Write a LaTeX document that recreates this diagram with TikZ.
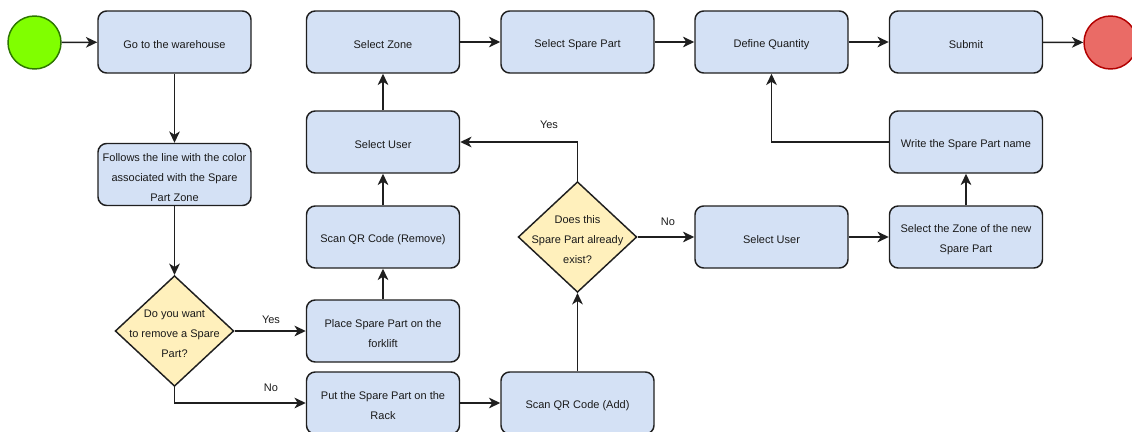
\documentclass[tikz,border=0pt]{standalone}
\usepackage{fontspec}
\setmainfont{Liberation Sans}
\usetikzlibrary{shapes.geometric,arrows.meta}

\definecolor{boxfill}{HTML}{D4E1F5}
\definecolor{decfill}{HTML}{FFF0BC}
\definecolor{linecol}{HTML}{1F1F1F}
\definecolor{txtcol}{HTML}{1A1A1A}
\definecolor{startfill}{HTML}{80FF00}
\definecolor{startline}{HTML}{2D7600}
\definecolor{endfill}{HTML}{EA6B66}
\definecolor{endline}{HTML}{B20000}

\begin{document}
\begin{tikzpicture}[x=0.75pt,y=-0.75pt,
  every node/.style={font=\fontsize{8.25}{15}\selectfont, text=txtcol},
  % captions sit slightly below the centre of their shape
  caption/.style={align=center, yshift=-2.25pt},
  stepbox/.style={draw=linecol, line width=1.1pt, fill=boxfill, rounded corners=6.5pt,
    minimum width=114.75pt, minimum height=46.5pt, inner sep=0pt,
    label={[caption]center:#1}},
  decision/.style={diamond, draw=linecol, line width=1.1pt, fill=decfill,
    minimum width=89pt, minimum height=83pt, inner sep=0pt,
    label={[caption]center:#1}},
  terminal/.style={circle, line width=1.1pt, minimum size=39.75pt, inner sep=0pt},
  flow/.style={draw=linecol, line width=1.1pt, -{Stealth[length=8.5pt,width=8pt,inset=2.5pt]}},
  lbl/.style={inner sep=1pt}
]
\useasboundingbox (0,0) rectangle (1132,432);

% start and end events
\node[terminal, draw=startline, fill=startfill] (start) at (34.5,42.5) {};
\node[terminal, draw=endline, fill=endfill] (stop) at (1110.5,42.5) {};

% left column
\node[stepbox={Go to the warehouse}] (go) at (174.5,42) {};
\node[stepbox={Follows the line with the color\\associated with the Spare\\Part Zone}] (follow) at (174.5,174.5) {};
\node[decision={Do you want\\to remove a Spare\\Part?}] (remove) at (174.5,331) {};

% removal branch
\node[stepbox={Place Spare Part on the\\forklift}] (place) at (383,331) {};
\node[stepbox={Scan QR Code (Remove)}] (scanrem) at (383,237) {};
\node[stepbox={Select User}] (user) at (383,142) {};
\node[stepbox={Select Zone}] (zone) at (383,42) {};

% adding branch
\node[stepbox={Put the Spare Part on the\\Rack}] (rack) at (383,403) {};
\node[stepbox={Scan QR Code (Add)}] (scanadd) at (577.5,403) {};
\node[decision={Does this\\Spare Part already\\exist?}] (exists) at (577.5,237) {};

% top row
\node[stepbox={Select Spare Part}] (part) at (577.5,42) {};
\node[stepbox={Define Quantity}] (qty) at (771.5,42) {};
\node[stepbox={Submit}] (submit) at (966,42) {};

% new spare part branch
\node[stepbox={Select User}] (user2) at (771.5,237) {};
\node[stepbox={Select the Zone of the new\\Spare Part}] (newzone) at (966,237) {};
\node[stepbox={Write the Spare Part name}] (name) at (966,142) {};

% connectors
\draw[flow] (start) -- (go);
\draw[flow] (go) -- (follow);
\draw[flow] (follow) -- (remove);
\draw[flow] (remove.east) -- (place.west);
\node[lbl] (yes1) at (271,320) {Yes};
\draw[flow] (remove.south) |- (rack.west);
\node[lbl] (no1) at (271,388) {No};
\draw[flow] (place) -- (scanrem);
\draw[flow] (scanrem) -- (user);
\draw[flow] (user) -- (zone);
\draw[flow] (zone) -- (part);
\draw[flow] (part) -- (qty);
\draw[flow] (qty) -- (submit);
\draw[flow] (submit) -- (stop);
\draw[flow] (rack) -- (scanadd);
\draw[flow] (scanadd) -- (exists.south);
\draw[flow] (exists.north) |- (user.east);
\node[lbl] (yes2) at (549,125) {Yes};
\draw[flow] (exists.east) -- (user2.west);
\node[lbl] (no2) at (668,222) {No};
\draw[flow] (user2) -- (newzone);
\draw[flow] (newzone) -- (name);
\draw[flow] (name.west) -| (qty.south);
\end{tikzpicture}
\end{document}
